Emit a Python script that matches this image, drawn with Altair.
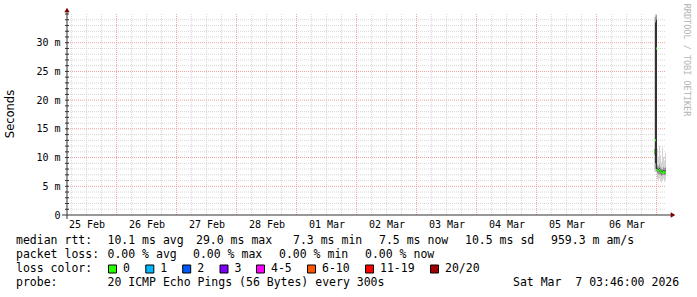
import altair as alt
import pandas as pd

# ---------------- data ----------------
bin_start = ["2026-03-06T22:58:00Z", "2026-03-06T23:22:00Z", "2026-03-06T23:46:00Z",
             "2026-03-07T00:10:00Z", "2026-03-07T00:34:00Z", "2026-03-07T00:58:00Z",
             "2026-03-07T01:22:00Z", "2026-03-07T01:46:00Z", "2026-03-07T02:10:00Z",
             "2026-03-07T02:34:00Z", "2026-03-07T02:58:00Z", "2026-03-07T03:22:00Z"]
median = [11.0, 13.0, 29.0, 7.8, 7.7, 7.9, 7.6, 7.4, 7.3, 7.5, 7.4, 7.5]
smoke_lo = [7.6, 7.5, 7.3, 6.2, 5.9, 6.4, 6.0, 5.6, 6.1, 6.3, 5.8, 6.0]
smoke_hi = [34.5, 35.0, 35.0, 11.5, 9.8, 12.0, 10.4, 9.2, 11.8, 10.1, 9.5, 10.8]
smoke_p25 = [10.5, 8.0, 7.6, 7.2, 7.1, 7.0, 7.0, 6.8, 6.9, 7.0, 6.9, 7.0]
smoke_p75 = [11.5, 34.5, 34.8, 8.6, 8.4, 8.8, 8.3, 8.1, 8.0, 8.3, 8.2, 8.3]
smoke_p40 = [10.8, 9.0, 8.0, 7.6, 7.5, 7.6, 7.4, 7.2, 7.1, 7.3, 7.2, 7.3]
smoke_p60 = [11.2, 33.5, 34.0, 8.1, 8.0, 8.2, 7.9, 7.7, 7.6, 7.8, 7.7, 7.8]

day_labels = ["25 Feb", "26 Feb", "27 Feb", "28 Feb", "01 Mar", "02 Mar",
              "03 Mar", "04 Mar", "05 Mar", "06 Mar"]
y_tick_values = [0, 5, 10, 15, 20, 25, 30]

row1 = ["median rtt:", "10.1 ms avg", "29.0 ms max", "7.3 ms min", "7.5 ms now",
        "10.5 ms sd", "959.3 m am/s"]
row2 = ["packet loss:", "0.00 % avg", "0.00 % max", "0.00 % min", "0.00 % now"]
row4 = ["probe:", "20 ICMP Echo Pings (56 Bytes) every 300s", "Sat Mar\u00a0 7 03:46:00 2026"]
loss_labels = ["0", "1", "2", "3", "4-5", "6-10", "11-19", "20/20"]
loss_colors = ["#26ff00", "#00b8ff", "#0059ff", "#7e00ff", "#ff00ff", "#ff5500", "#ff0000", "#a10000"]

# ---------------- layout helpers ----------------
PL, PT = 66, 14
W, H = 600, 201

t0 = pd.Timestamp("2026-02-25T03:46:00Z")
t1 = pd.Timestamp("2026-03-07T03:46:00Z")
xscale = alt.Scale(type="utc",
                   domain=[alt.DateTime(year=2026, month=2, date=25, hours=3, minutes=46, utc=True),
                           alt.DateTime(year=2026, month=3, date=7, hours=3, minutes=46, utc=True)])
yscale = alt.Scale(domain=[0, 35], nice=False, zero=False)

starts = pd.to_datetime(bin_start)
ends = starts + pd.Timedelta(minutes=24)
df = pd.DataFrame({
    "t": [s.strftime("%Y-%m-%dT%H:%M:%SZ") for s in starts],
    "t2": [e.strftime("%Y-%m-%dT%H:%M:%SZ") for e in ends],
    "med": median, "lo": smoke_lo, "hi": smoke_hi,
    "p25": smoke_p25, "p75": smoke_p75, "p40": smoke_p40, "p60": smoke_p60,
})

# grid positions
first_day = pd.Timestamp("2026-02-25T00:00:00Z")
grid_times = pd.date_range(first_day, t1, freq="6h")
grid_times = [g for g in grid_times if t0 < g < t1]
major_x = [g.strftime("%Y-%m-%dT%H:%M:%SZ") for g in grid_times if g.hour == 0]
minor_x = [g.strftime("%Y-%m-%dT%H:%M:%SZ") for g in grid_times if g.hour != 0]
major_y = [v for v in y_tick_values if v > 0]
minor_y = [v for v in range(1, 35) if v % 5 != 0]

noon_vals = [alt.DateTime(year=2026, month=(2 if i < 4 else 3),
                          date=(25 + i if i < 4 else i - 3), hours=12, utc=True)
             for i in range(len(day_labels))]

MINOR = "#d6d6d6"
MAJOR = "#eea0a0"
AXIS = "#333333"
ARROW = "#7f0000"
MONO = "DejaVu Sans Mono"

layers = []

# grid
layers.append(alt.Chart(pd.DataFrame({"v": minor_y})).mark_rule(
    color=MINOR, strokeWidth=1, strokeDash=[1, 1]).encode(
    y=alt.Y("v:Q", scale=yscale, axis=None), x=alt.value(0), x2=alt.value(W)))
layers.append(alt.Chart(pd.DataFrame({"t": minor_x})).mark_rule(
    color=MINOR, strokeWidth=1, strokeDash=[1, 1]).encode(
    x=alt.X("t:T", scale=xscale, axis=None), y=alt.value(0), y2=alt.value(H)))
layers.append(alt.Chart(pd.DataFrame({"v": major_y})).mark_rule(
    color=MAJOR, strokeWidth=1, strokeDash=[1, 1]).encode(
    y=alt.Y("v:Q", scale=yscale, axis=None), x=alt.value(0), x2=alt.value(W)))
layers.append(alt.Chart(pd.DataFrame({"t": major_x})).mark_rule(
    color=MAJOR, strokeWidth=1, strokeDash=[1, 1]).encode(
    x=alt.X("t:T", scale=xscale, axis=None), y=alt.value(0), y2=alt.value(H)))

# smoke (layer that also carries the labelled axes)
base = alt.Chart(df)
layers.append(base.mark_rect(color="#d4d4d4").encode(
    x=alt.X("t:T", scale=xscale, axis=alt.Axis(
        values=noon_vals, labelExpr="utcFormat(datum.value, '%d %b')",
        labelFont=MONO, labelFontSize=10, labelColor="black", labelPadding=4,
        labelOverlap=False, labelFlush=False, labelBound=False,
        ticks=False, domain=False, grid=False, title=None)),
    x2="t2:T",
    y=alt.Y("lo:Q", scale=yscale, axis=alt.Axis(
        values=y_tick_values,
        labelExpr="datum.value == 0 ? '0' : datum.value + ' m'",
        labelFont=MONO, labelFontSize=10, labelColor="black", labelPadding=6,
        ticks=False, domain=False, grid=False, title=None)),
    y2="hi:Q"))
layers.append(base.mark_rect(color="#9a9a9a").encode(
    x=alt.X("t:T", scale=xscale, axis=None), x2="t2:T",
    y=alt.Y("p25:Q", scale=yscale, axis=None), y2="p75:Q"))
layers.append(base.mark_rect(color="#333333").encode(
    x=alt.X("t:T", scale=xscale, axis=None), x2="t2:T",
    y=alt.Y("p40:Q", scale=yscale, axis=None), y2="p60:Q"))
# median (loss 0 -> green)
layers.append(base.mark_rule(color=loss_colors[0], strokeWidth=2).encode(
    x=alt.X("t:T", scale=xscale, axis=None), x2="t2:T",
    y=alt.Y("med:Q", scale=yscale, axis=None)))

# axis lines, minor ticks and arrows
layers.append(alt.Chart(pd.DataFrame({"v": list(range(1, 36))})).mark_rule(
    color=AXIS, strokeWidth=1).encode(
    y=alt.Y("v:Q", scale=yscale, axis=None), x=alt.value(-1), x2=alt.value(3)))
layers.append(alt.Chart(pd.DataFrame({"a": [0]})).mark_rule(color=AXIS, strokeWidth=1).encode(
    x=alt.value(1), y=alt.value(-3), y2=alt.value(H + 4)))
layers.append(alt.Chart(pd.DataFrame({"a": [0]})).mark_rule(color=AXIS, strokeWidth=1).encode(
    x=alt.value(-4), x2=alt.value(W + 5), y=alt.value(H)))
layers.append(alt.Chart(pd.DataFrame({"a": [0]})).mark_point(
    shape="triangle-up", filled=True, size=28, color=ARROW, opacity=1).encode(
    x=alt.value(1), y=alt.value(-4)))
layers.append(alt.Chart(pd.DataFrame({"a": [0]})).mark_point(
    shape="triangle-right", filled=True, size=28, color=ARROW, opacity=1).encode(
    x=alt.value(W + 7), y=alt.value(H)))

# y title and watermark
layers.append(alt.Chart(pd.DataFrame({"s": ["Seconds"]})).mark_text(
    angle=270, font="DejaVu Sans", fontSize=11.5, color="black", align="center", baseline="middle").encode(
    x=alt.value(11 - PL), y=alt.value(114 - PT), text="s:N"))
layers.append(alt.Chart(pd.DataFrame({"s": ["RRDTOOL / TOBI OETIKER"]})).mark_text(
    angle=90, font=MONO, fontSize=8.5, color="#b4b4b4", align="center", baseline="middle").encode(
    x=alt.value(687 - PL), y=alt.value(60 - PT), text="s:N"))

# legend text
row1_x = [16, 107.5, 196, 293, 379, 465, 551]
row2_x = [16, 107.5, 193, 279, 365]
row4_x = [16, 107.5, 513]
box_x = [108.5, 145.8, 182.7, 220, 256.5, 307.5, 365.5, 430.5]
rows_y = [241, 255, 269, 283]

texts, xs, ys = [], [], []
for s, x in zip(row1, row1_x):
    texts.append(s); xs.append(x - PL); ys.append(rows_y[0] - PT)
for s, x in zip(row2, row2_x):
    texts.append(s); xs.append(x - PL); ys.append(rows_y[1] - PT)
texts.append("loss color:"); xs.append(16 - PL); ys.append(rows_y[2] - PT)
for s, x in zip(loss_labels, box_x):
    texts.append(s); xs.append(x + 14.5 - PL); ys.append(rows_y[2] - PT)
for s, x in zip(row4, row4_x):
    texts.append(s); xs.append(x - PL); ys.append(rows_y[3] - PT)

leg = pd.DataFrame({"text": texts, "px": xs, "py": ys})
layers.append(alt.Chart(leg).mark_text(
    align="left", baseline="middle", font=MONO, fontSize=11.5, color="black").encode(
    x=alt.X("px:Q", scale=None, axis=None), y=alt.Y("py:Q", scale=None, axis=None),
    text="text:N"))

boxes = pd.DataFrame({"px": [b + 4 - PL for b in box_x], "py": [rows_y[2] - PT] * len(box_x),
                      "col": loss_colors})
layers.append(alt.Chart(boxes).mark_square(
    size=64, filled=True, stroke="black", strokeWidth=1, opacity=1).encode(
    x=alt.X("px:Q", scale=None, axis=None), y=alt.Y("py:Q", scale=None, axis=None),
    color=alt.Color("col:N", scale=None, legend=None)))

chart = alt.layer(*layers).resolve_scale(x="independent", y="independent").properties(
    width=W, height=H,
    padding={"left": PL, "top": PT, "right": 697 - PL - W, "bottom": 297 - PT - H},
    autosize=alt.AutoSizeParams(type="none"),
    background="white",
).configure_view(stroke=None)

chart.save("out.html", embed_options={"renderer": "svg", "actions": False})
